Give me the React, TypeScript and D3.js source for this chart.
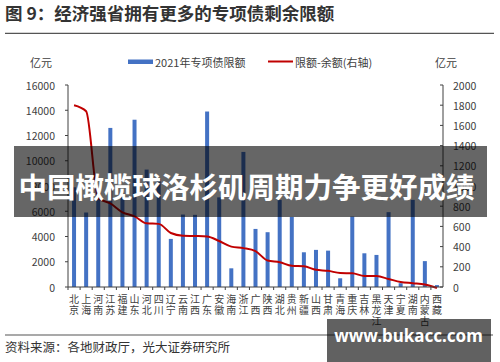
import React from "react";
import * as d3 from "d3";

const provinces = ["北京","上海","河南","江苏","福建","山东","河北","四川","辽宁","云南","江西","广东","安徽","海南","浙江","广西","陕西","湖北","贵州","新疆","山西","甘肃","青海","重庆","吉林","黑龙江","天津","宁夏","湖南","内蒙古","西藏"];
const limit2021 = [7900,5900,7800,12600,7400,13250,9300,8600,3810,5740,5715,13900,7100,1480,10700,4600,4340,6900,5550,2750,2940,2880,690,5580,2670,2540,5930,300,6900,2050,150];
const remaining = [1800,1740,880,828,740,700,630,625,535,508,505,500,455,400,385,355,262,245,210,205,170,160,138,135,110,108,80,50,38,25,-10];
const leftTicks = [0,2000,4000,6000,8000,10000,12000,14000,16000];
const rightTicks = [0,200,400,600,800,1000,1200,1400,1600,1800,2000];

const FONT = "'Noto Sans CJK SC', 'Noto Sans', sans-serif";

export default function App() {
  const x = d3.scaleBand<string>().domain(provinces).range([68, 443]);
  const yL = d3.scaleLinear().domain([0, 16000]).range([287, 85]);
  const yR = d3.scaleLinear().domain([0, 2000]).range([287, 85]);
  const line = d3.line<number>()
    .x((_, i) => (x(provinces[i]) as number) + x.bandwidth() / 2)
    .y((d) => yR(d))
    .curve(d3.curveMonotoneX);
  const barW = 4;
  const axisColor = "#404040";
  return (
    <svg width={500} height={362} style={{ position: "absolute", left: 0, top: 0, background: "#fff" }} fontFamily={FONT}>
      <rect x={0} y={0} width={500} height={362} fill="#fff" />
      <text x={5} y={19.5} fontSize={17.5} fontWeight="bold" fill="#333">图 9：经济强省拥有更多的专项债剩余限额</text>
      <line x1={5} x2={494} y1={33.3} y2={33.3} stroke="#555" strokeWidth={1.3} />

      {/* legend */}
      <text x={41} y={62} fontSize={11} fill="#404040" textAnchor="middle" dominantBaseline="central">亿元</text>
      <text x={446} y={62} fontSize={11} fill="#404040" textAnchor="middle" dominantBaseline="central">亿元</text>
      <rect x={128} y={59.5} width={25} height={4.5} fill="#4472C4" />
      <text x={155} y={62} fontSize={11} fill="#404040" dominantBaseline="central">2021年专项债限额</text>
      <line x1={268} x2={293} y1={61.5} y2={61.5} stroke="#C00000" strokeWidth={2} />
      <text x={295} y={62} fontSize={11} fill="#404040" dominantBaseline="central">限额-余额(右轴)</text>

      {/* bars */}
      {provinces.map((p, i) => (
        <rect key={p} x={(x(p) as number) + x.bandwidth() / 2 - barW / 2} y={yL(limit2021[i])}
          width={barW} height={yL(0) - yL(limit2021[i])} fill="#4472C4" />
      ))}
      <path d={line(remaining) || ""} fill="none" stroke="#C00000" strokeWidth={2} />

      {/* left axis */}
      <line x1={68} x2={68} y1={yL(16000)} y2={yL(0)} stroke={axisColor} strokeWidth={1} />
      {leftTicks.map((t) => (
        <g key={"l" + t}>
          <line x1={65} x2={68} y1={yL(t)} y2={yL(t)} stroke={axisColor} />
          <text x={55} y={yL(t)} fontSize={10.5} fill="#404040" textAnchor="end" dominantBaseline="central">{t}</text>
        </g>
      ))}
      {/* right axis */}
      <line x1={443} x2={443} y1={yR(2000)} y2={yR(0)} stroke={axisColor} strokeWidth={1} />
      {rightTicks.map((t) => (
        <g key={"r" + t}>
          <line x1={440} x2={443} y1={yR(t)} y2={yR(t)} stroke={axisColor} />
          <text x={453} y={yR(t)} fontSize={10.5} fill="#404040" dominantBaseline="central">{t}</text>
        </g>
      ))}
      {/* x axis */}
      <line x1={68} x2={443} y1={287} y2={287} stroke={axisColor} strokeWidth={1} />
      {provinces.map((p) => (
        <line key={"t" + p} x1={(x(p) as number)} x2={(x(p) as number)} y1={287} y2={290} stroke={axisColor} />
      ))}
      {provinces.map((p) => (
        <text key={"x" + p} fontSize={10} fill="#404040" textAnchor="middle">
          {p.split("").map((c, j) => (
            <tspan key={j} x={(x(p) as number) + x.bandwidth() / 2} y={298 + j * 11} dominantBaseline="central">{c}</tspan>
          ))}
        </text>
      ))}

      {/* source */}
      <line x1={5} x2={493} y1={335} y2={335} stroke="#555" strokeWidth={1.2} />
      <text x={5} y={346} fontSize={12.5} fill="#333" dominantBaseline="central">资料来源：各地财政厅，光大证券研究所</text>

      {/* overlays */}
      <rect x={14} y={146} width={473} height={71} fill="#000" fillOpacity={0.6} />
      <text x={246.5} y={185} fontSize={28.5} fontWeight="bold" fill="#fff" textAnchor="middle" dominantBaseline="central">中国橄榄球洛杉矶周期力争更好成绩</text>
      <rect x={327} y={319} width={164} height={43} fill="#000" fillOpacity={0.62} />
      <text x={408.5} y={342} fontSize={17} fontWeight="bold" fill="#fff" textAnchor="middle" fontFamily="'Noto Sans', sans-serif">www.bukacc.com</text>
    </svg>
  );
}
